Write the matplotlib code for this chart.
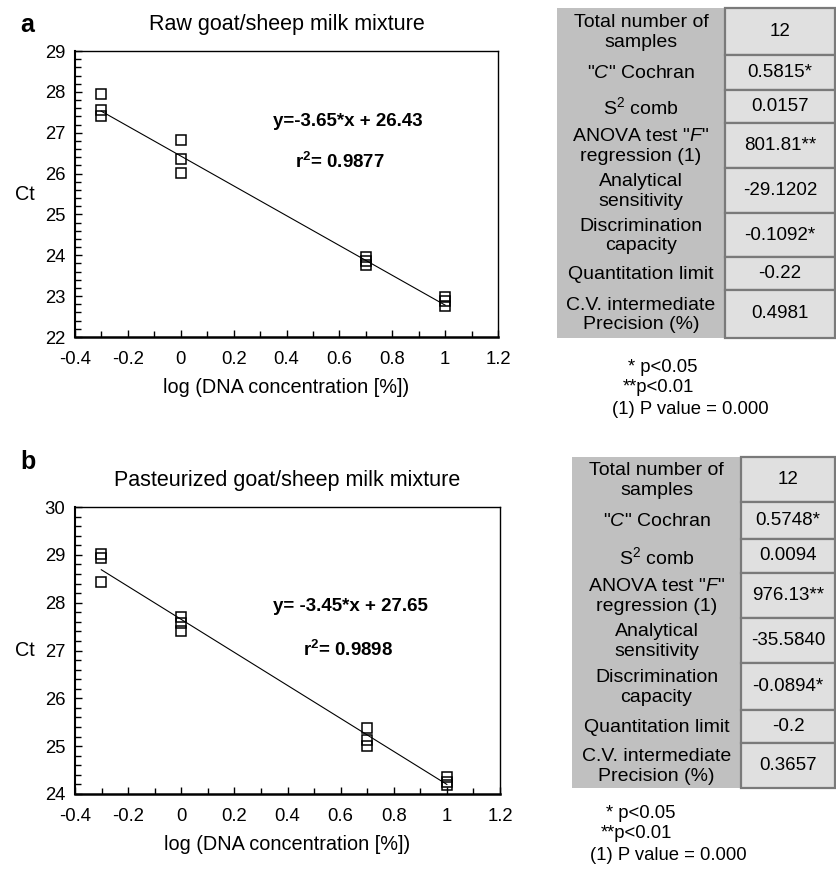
import numpy as np
import matplotlib
matplotlib.use("Agg")
import matplotlib.pyplot as plt
from matplotlib.patches import Rectangle
from matplotlib.ticker import MultipleLocator

plt.rcParams['font.family'] = ['Liberation Sans', 'DejaVu Sans']
plt.rcParams['mathtext.fontset'] = 'custom'
plt.rcParams['mathtext.rm'] = 'Liberation Sans'
plt.rcParams['mathtext.it'] = 'Liberation Sans:italic'
plt.rcParams['mathtext.bf'] = 'Liberation Sans:bold'
plt.rcParams['mathtext.default'] = 'regular'

# ---------------- data ----------------
x_log = [-0.301, -0.301, -0.301, 0.0, 0.0, 0.0, 0.699, 0.699, 0.699, 1.0, 1.0, 1.0]
ct_raw = [27.94, 27.56, 27.41, 26.81, 26.36, 26.02, 23.96, 23.85, 23.77, 22.99, 22.87, 22.75]
ct_past = [29.02, 28.93, 28.44, 27.71, 27.57, 27.41, 25.38, 25.13, 25.01, 24.36, 24.25, 24.18]
fit_raw = (-3.65, 26.43)
fit_past = (-3.45, 27.65)
r2_raw = 0.9877
r2_past = 0.9898

table_labels = ["Total number of\nsamples", '"$\\mathit{C}$" Cochran', 'S$^2$ comb',
                'ANOVA test "$\\mathit{F}$"\nregression (1)', "Analytical\nsensitivity",
                "Discrimination\ncapacity", "Quantitation limit", "C.V. intermediate\nPrecision (%)"]
table_raw = ["12", "0.5815*", "0.0157", "801.81**", "-29.1202", "-0.1092*", "-0.22", "0.4981"]
table_past = ["12", "0.5748*", "0.0094", "976.13**", "-35.5840", "-0.0894*", "-0.2", "0.3657"]
foot_lines = ["* p<0.05", "**p<0.01", "(1) P value = 0.000"]

W, H = 836, 877
fig = plt.figure(figsize=(W / 100, H / 100), dpi=100)


def px_axes(l, t, r, b):
    return fig.add_axes([l / W, 1 - b / H, (r - l) / W, (b - t) / H])


def plot_panel(ax, x, y, fit, r2, ylim, title, eq_txt, eq_pos, r2_pos):
    xs = np.array([min(x), max(x)])
    ax.plot(xs, fit[0] * xs + fit[1], color='black', lw=0.8, zorder=2)
    ax.plot(x, y, ls='none', marker='s', ms=7.5, mfc='none', mec='black', mew=1.1, zorder=3)
    ax.set_xlim(-0.4, 1.2)
    ax.set_ylim(*ylim)
    ax.xaxis.set_minor_locator(MultipleLocator(0.1))
    ax.yaxis.set_major_locator(MultipleLocator(1))
    ax.yaxis.set_minor_locator(MultipleLocator(0.2))
    ticks = np.arange(-0.4, 1.21, 0.2)
    ax.set_xticks(ticks)
    ax.set_xticklabels(['%g' % round(t, 1) for t in ticks])
    ax.tick_params(which='both', direction='in', top=False, right=False, labelsize=13.3, width=1)
    ax.tick_params(which='major', length=5)
    ax.tick_params(which='minor', length=4)
    ax.tick_params(axis='x', which='major', pad=10)
    ax.tick_params(axis='y', which='major', pad=7)
    for s in ax.spines.values():
        s.set_linewidth(1.0)
    ax.spines['bottom'].set_linewidth(1.8)
    ax.spines['left'].set_linewidth(1.5)
    ax.set_xlabel('log (DNA concentration [%])', fontsize=14.3, labelpad=7)
    ax.set_ylabel('Ct', fontsize=14.3, rotation=0, labelpad=14, va='center')
    ax.set_title(title, fontsize=15.5, pad=15)
    ax.text(eq_pos[0], eq_pos[1], eq_txt, transform=ax.transAxes, ha='center', va='center',
            fontsize=13.5, fontweight='bold')
    ax.text(r2_pos[0], r2_pos[1], 'r$^{\\mathbf{2}}$= %.4f' % r2, transform=ax.transAxes,
            ha='center', va='center', fontsize=13.5, fontweight='bold')


ax1 = px_axes(75, 51, 498, 337)
plot_panel(ax1, x_log, ct_raw, fit_raw, r2_raw, (22, 29), 'Raw goat/sheep milk mixture',
           'y=%.2f*x + %.2f' % fit_raw, (0.645, 0.755), (0.626, 0.612))
ax2 = px_axes(75, 507, 500, 794)
plot_panel(ax2, x_log, ct_past, fit_past, r2_past, (24, 30), 'Pasteurized goat/sheep milk mixture',
           'y= %.2f*x + %.2f' % fit_past, (0.647, 0.655), (0.642, 0.502))

# overlay for tables / annotations in pixel coordinates
ov = fig.add_axes([0, 0, 1, 1], zorder=-1)
ov.set_xlim(0, W)
ov.set_ylim(H, 0)
ov.axis('off')


def draw_table(rows, lab_l, val_l, val_r, labels, values):
    ov.add_patch(Rectangle((lab_l, rows[0]), val_l - lab_l, rows[-1] - rows[0],
                           facecolor='#c0c0c0', edgecolor='none'))
    for i in range(len(labels)):
        t, b = rows[i], rows[i + 1]
        ov.add_patch(Rectangle((val_l, t), val_r - val_l, b - t, facecolor='#e0e0e0',
                               edgecolor='#7a7a7a', lw=1.6))
        ov.text((lab_l + val_l) / 2, (t + b) / 2 + 1, labels[i], ha='center', va='center',
                fontsize=14, linespacing=1.22)
        ov.text((val_l + val_r) / 2, (t + b) / 2, values[i], ha='center', va='center',
                fontsize=13.5)


draw_table([8, 55, 90, 123, 168, 213, 257, 290, 338], 557, 725, 835, table_labels, table_raw)
draw_table([457, 502, 539, 573, 618, 663, 710, 743, 788], 572, 741, 835, table_labels, table_past)

for xs_, ys_ in (([628, 623, 612], [367, 388, 410]), ([606, 601, 590], [813, 834, 856])):
    for line, xx, yy in zip(foot_lines, xs_, ys_):
        ov.text(xx, yy, line, ha='left', va='center', fontsize=13.3)

fig.text(20 / W, 1 - 25 / H, 'a', fontsize=18, fontweight='bold', ha='left', va='center')
fig.text(20 / W, 1 - 462 / H, 'b', fontsize=18, fontweight='bold', ha='left', va='center')

fig.savefig('out.png', dpi=100)
